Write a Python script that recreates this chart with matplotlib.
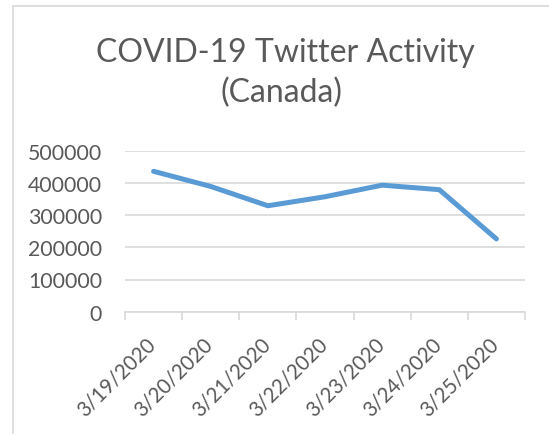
import matplotlib
matplotlib.use("Agg")
import matplotlib.pyplot as plt
from matplotlib.patches import Rectangle
from matplotlib.transforms import ScaledTranslation

dates = ["3/19/2020", "3/20/2020", "3/21/2020", "3/22/2020", "3/23/2020", "3/24/2020", "3/25/2020"]
tweets = [436000, 389000, 329000, 357000, 393000, 379000, 226000]
yticks = [0, 100000, 200000, 300000, 400000, 500000]
title_lines = ["COVID-19 Twitter Activity", "(Canada)"]

W, H = 549, 435
fig = plt.figure(figsize=(W / 100, H / 100), dpi=100)
plt.rcParams['font.family'] = ['Lato', 'DejaVu Sans']
gray = "#595959"

# chart frame
fig.patches.append(Rectangle((13 / W, -0.1), 1.2, 1 - 6.5 / H + 0.1, transform=fig.transFigure,
                             fill=False, edgecolor="#D9D9D9", linewidth=1.2))

ax = fig.add_axes([125 / W, 1 - 312.7 / H, 400 / W, (312.7 - 151.7) / H])
x = list(range(len(dates)))
ax.plot(x, tweets, color="#5B9BD5", linewidth=3.6, solid_capstyle="round", solid_joinstyle="round", zorder=3)
ax.set_xlim(-0.5, len(dates) - 0.5)
ax.set_ylim(0, 500000)
ax.set_yticks(yticks)
ax.set_yticklabels([str(v) for v in yticks], fontsize=15.3, color=gray)
for s in ["top", "right", "left"]:
    ax.spines[s].set_visible(False)
ax.spines["bottom"].set_color("#D9D9D9")
ax.spines["bottom"].set_linewidth(1.2)
ax.tick_params(axis="y", length=0, pad=16.5)
ax.grid(axis="y", color="#D9D9D9", linewidth=1.2)
ax.set_axisbelow(True)

# minor ticks at category boundaries
ax.set_xticks([i - 0.5 for i in range(len(dates) + 1)], minor=True)
ax.tick_params(axis="x", which="minor", length=6, color="#D9D9D9", width=1.2, direction="out")
ax.set_xticks(x)
ax.set_xticklabels(dates, rotation=45, ha="right", va="top", rotation_mode="anchor", fontsize=14.8, color=gray)
ax.tick_params(axis="x", which="major", length=0, pad=15.5)
off = ScaledTranslation(-8 / 100, 0, fig.dpi_scale_trans)
for lbl in ax.get_xticklabels():
    lbl.set_transform(lbl.get_transform() + off)

fig.text(285.5 / W, 1 - 61.7 / H, title_lines[0], ha="center", va="baseline", fontsize=23, color=gray)
fig.text(281 / W, 1 - 101.7 / H, title_lines[1], ha="center", va="baseline", fontsize=23, color=gray)

fig.savefig("out.png", dpi=100)
